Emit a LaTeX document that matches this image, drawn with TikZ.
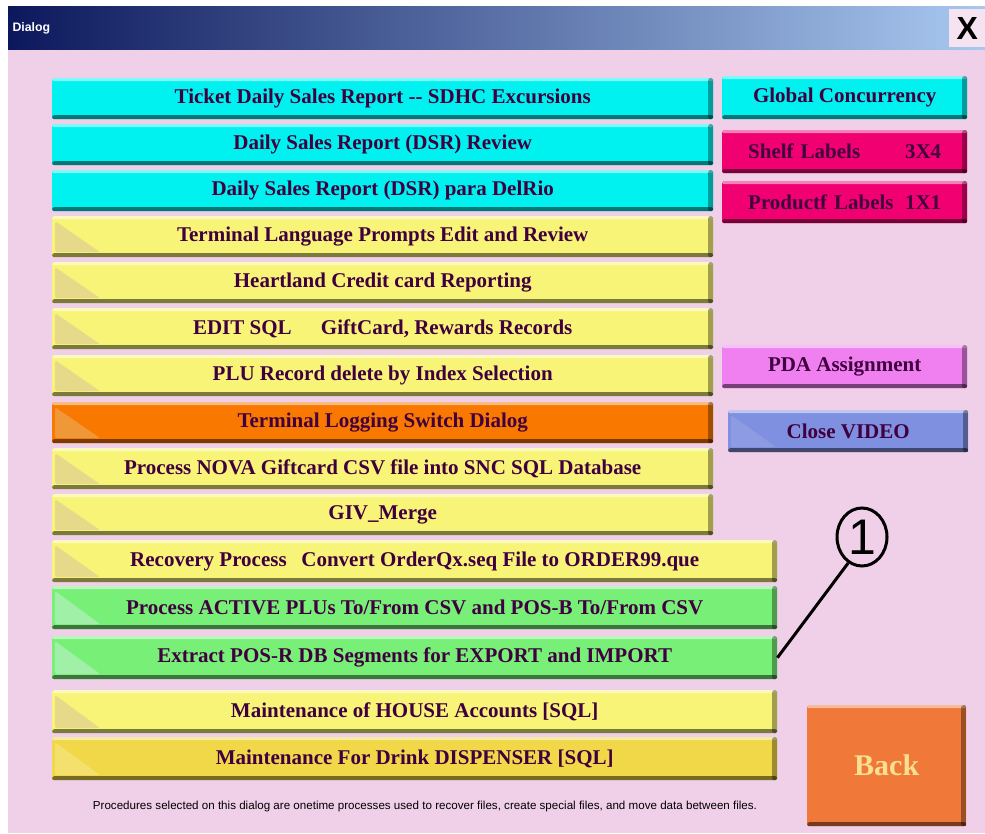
\documentclass[tikz,border=0pt]{standalone}
\usepackage{fontspec}
\setmainfont{Liberation Serif}
\newfontfamily\uifont{Liberation Sans}
\usetikzlibrary{shapes,positioning}

\definecolor{dlgbg}{HTML}{F0D0E8}
\definecolor{titleL}{HTML}{0C185C}
\definecolor{titleR}{HTML}{A8C8F0}
\definecolor{btntxt}{HTML}{400040}
\definecolor{cyn}{HTML}{00F2F0}
\definecolor{yel}{HTML}{F8F478}
\definecolor{tan}{HTML}{E6DA8A}
\definecolor{org}{HTML}{F87800}
\definecolor{orgtri}{HTML}{F09838}
\definecolor{grn}{HTML}{78F078}
\definecolor{grntri}{HTML}{A0F0A8}
\definecolor{gold}{HTML}{F0D848}
\definecolor{mag}{HTML}{F00070}
\definecolor{pnk}{HTML}{F080F0}
\definecolor{blu}{HTML}{8090E0}
\definecolor{backorg}{HTML}{F07838}
\definecolor{backtxt}{HTML}{F8E090}

\tikzset{
  btn/.style 2 args={fill=#1, anchor=north west, inner sep=0pt,
    rounded corners=2pt, text=btntxt,
    font=\fontsize{21}{23}\selectfont\bfseries,
    path picture={
      \fill[#2] ([shift={(3pt,-5pt)}]path picture bounding box.north west)
        -- ([shift={(3pt,5pt)}]path picture bounding box.south west)
        -- ([shift={(48pt,5pt)}]path picture bounding box.south west) -- cycle;
      \fill[white, opacity=0.5] (path picture bounding box.north west)
        rectangle ([yshift=-3pt]path picture bounding box.north east);
      \fill[black, opacity=0.5] (path picture bounding box.south west)
        rectangle ([yshift=4pt]path picture bounding box.south east);
      \fill[black, opacity=0.35] ([xshift=-5pt]path picture bounding box.north east)
        rectangle (path picture bounding box.south east);
    }},
  wide/.style={minimum width=661pt, minimum height=41pt},
  wider/.style={minimum width=725pt, minimum height=43pt},
  side/.style={minimum width=245pt, minimum height=43pt}
}

\begin{document}
\begin{tikzpicture}[x=1pt, y=-1pt]

  \useasboundingbox[fill=white] (0,0) rectangle (985,833);
  \fill[dlgbg] (8,49) rectangle (985,833);
  \shade[left color=titleL, right color=titleR] (8,6) rectangle (985,49);

  \node[anchor=west, text=white, font=\uifont\bfseries\fontsize{12.3}{14}\selectfont] (title) at (9,28) {Dialog};
  \node[anchor=north west, fill=dlgbg!60!white, minimum width=36pt, minimum height=38pt,
        inner sep=0pt, font=\uifont\bfseries\fontsize{32}{32}\selectfont] (close) at (949,9) {X};

  % left column
  \node[btn={cyn}{cyn}, wide] (tkt) at (52,78) {Ticket Daily Sales Report -{}- SDHC Excursions};
  \node[btn={cyn}{cyn}, wide] (dsr) at (52,124) {Daily Sales Report (DSR) Review};
  \node[btn={cyn}{cyn}, wide] (delrio) at (52,170) {Daily Sales Report (DSR) para DelRio};
  \node[btn={yel}{tan}, wide] (lang) at (52,216) {Terminal Language Prompts Edit and Review};
  \node[btn={yel}{tan}, wide] (hland) at (52,262) {Heartland Credit card Reporting};
  \node[btn={yel}{tan}, wide] (editsql) at (52,308) {EDIT SQL\hspace{1.4em}GiftCard, Rewards Records};
  \node[btn={yel}{tan}, wide] (plu) at (52,355) {PLU Record delete by Index Selection};
  \node[btn={org}{orgtri}, wide] (tlog) at (52,402) {Terminal Logging Switch Dialog};
  \node[btn={yel}{tan}, wide] (nova) at (52,448) {Process NOVA Giftcard CSV file into SNC SQL Database};
  \node[btn={yel}{tan}, wide] (giv) at (52,494) {GIV\_Merge};
  \node[btn={yel}{tan}, wider, minimum height=42pt] (recov) at (52,540) {Recovery Process\hspace{0.7em}Convert OrderQx.seq File to ORDER99.que};
  \node[btn={grn}{grntri}, wider] (active) at (52,586) {Process ACTIVE PLUs To/From CSV and POS-B To/From CSV};
  \node[btn={grn}{grntri}, wider] (extract) at (52,636) {Extract POS-R DB Segments for EXPORT and IMPORT};
  \node[btn={yel}{tan}, wider] (house) at (52,690) {Maintenance of HOUSE Accounts [SQL]};
  \node[btn={gold}{gold!80!white}, wider] (drink) at (52,737) {Maintenance For Drink DISPENSER [SQL]};

  % right column
  \node[btn={cyn}{cyn}, side] (global) at (722,76) {Global Concurrency};
  \node[btn={mag}{mag}, side, text width=193pt, inner xsep=26pt, minimum width=0pt] (shelf) at (722,130) {Shelf Labels\hfill 3X4};
  \node[btn={mag}{mag}, side, text width=193pt, inner xsep=26pt, minimum width=0pt, minimum height=42pt] (prodlbl) at (722,181) {Productf Labels\hfill 1X1};
  \node[btn={pnk}{pnk}, side] (pda) at (722,345) {PDA Assignment};
  \node[btn={blu}{blu!90!white}, side, minimum width=240pt, minimum height=42pt] (video) at (728,410) {Close VIDEO};
  \node[btn={backorg}{backorg}, minimum width=159pt, minimum height=121pt, text=backtxt,
        font=\fontsize{30}{32}\selectfont\bfseries] (back) at (807,705) {Back};

  % callout
  \node[draw, ellipse, line width=3pt, minimum width=50pt, minimum height=58pt, inner sep=0pt,
        font=\uifont\fontsize{50}{50}\selectfont] (one) at (862,537) {1};
  \draw[line width=3pt] (one.242) -- (extract.east);

  \node[font=\uifont\fontsize{11.6}{13}\selectfont] (footer) at (425,806)
    {Procedures selected on this dialog are onetime processes used to recover files, create special files, and move data between files.};

\end{tikzpicture}
\end{document}
